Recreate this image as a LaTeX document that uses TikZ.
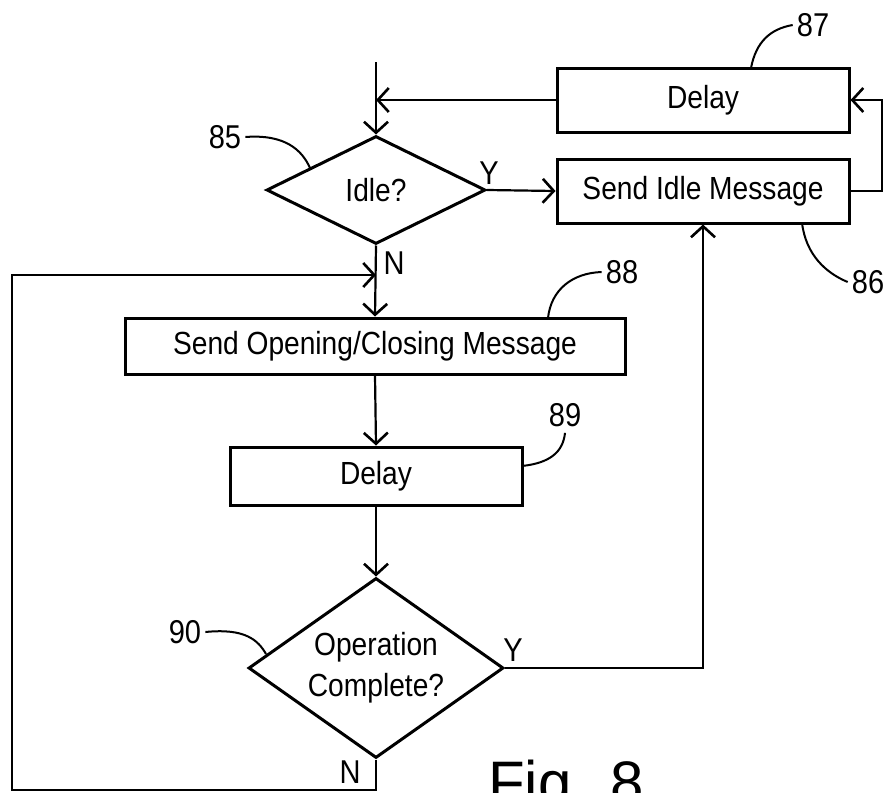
\documentclass[tikz,border=0pt]{standalone}
\usepackage{fontspec}
\setmainfont{Liberation Sans}[FakeStretch=0.88]
\newfontfamily\figfont{Liberation Sans}
\usetikzlibrary{shapes.geometric,arrows.meta}
\begin{document}
\begin{tikzpicture}[x=1pt,y=-1pt,
  box/.style={draw,line width=3pt,rectangle,inner sep=0pt,font=\fontsize{32}{38}\selectfont},
  dec/.style={draw,line width=3pt,diamond,inner sep=0pt,align=center,font=\fontsize{32}{41}\selectfont},
  flow/.style={line width=2.2pt},
  arr/.style={flow,-{Straight Barb[length=11pt,width=24pt,line width=2.6pt]}},
  lead/.style={line width=2pt},
  lbl/.style={inner sep=0pt,font=\fontsize{33}{38}\selectfont}
]
\useasboundingbox (0,0) rectangle (890,792);
\clip (0,0) rectangle (890,792);

% nodes
\node[box,minimum width=292pt,minimum height=64pt] (b87) at (703,100) {Delay};
\node[box,minimum width=292pt,minimum height=64pt] (b86) at (703,191) {Send Idle Message};
\node[dec,minimum width=219pt,minimum height=108pt,aspect=2] (d85) at (376,190) {Idle?};
\node[box,minimum width=500pt,minimum height=56pt] (b88) at (375,346) {Send Opening/Closing Message};
\node[box,minimum width=292pt,minimum height=58pt] (b89) at (376,476) {Delay};
\node[dec,minimum width=255pt,minimum height=180pt,aspect=1.42] (d90) at (376,668) {Operation\\Complete?};

% junction coordinates
\coordinate (top) at (376,62);
\coordinate (j1) at (376,100);
\coordinate (j2) at (376,275);
\coordinate (c1) at (376,790);
\coordinate (c2) at (12,790);
\coordinate (r1) at (882,191);

% connectors
\draw[arr] (top) -- (d85.north);
\draw[arr] (b87.west) -- (j1);
\draw[arr] (d85.east) -- (b86.west);
\draw[arr] (b86.east) -- (r1) |- (b87.east);
\draw[arr] (d85.south) -- (b88.north);
\draw[arr] (b88.south) -- (b89.north);
\draw[arr] (b89.south) -- (d90.north);
\draw[arr] (d90.east) -| (b86.south);
\draw[arr] (d90.south) -- (c1) -- (c2) |- (j2);

% branch labels
\node[lbl] (y1) at (489,173) {Y};
\node[lbl] (n1) at (394,263) {N};
\node[lbl] (y2) at (513,650) {Y};
\node[lbl] (n2) at (350,772) {N};

% reference numerals
\node[lbl] (l85) at (225,137) {85};
\draw[lead] (l85.east) ++(4,0) .. controls (285,134) and (302,150) .. (310,168);
\node[lbl] (l87) at (813,25) {87};
\draw[lead] (751,68) .. controls (756,42) and (770,29) .. ([xshift=-4pt]l87.west);
\node[lbl] (l86) at (868,282) {86};
\draw[lead] (802,223) .. controls (806,255) and (826,273) .. ([xshift=-4pt]l86.west);
\node[lbl] (l88) at (622,272) {88};
\draw[lead] (548,318) .. controls (551,290) and (572,273) .. ([xshift=-4pt]l88.west);
\node[lbl] (l89) at (565,415) {89};
\draw[lead] (522,466) .. controls (550,463) and (563,452) .. ([yshift=-6pt]l89.south);
\node[lbl] (l90) at (185,632) {90};
\draw[lead] ([xshift=4pt]l90.east) .. controls (245,628) and (258,640) .. (266,654);

% figure caption
\node[anchor=base west,inner sep=0pt,font=\figfont\fontsize{60}{72}\selectfont] (fig) at (488,803) {Fig. 8};
\end{tikzpicture}
\end{document}
